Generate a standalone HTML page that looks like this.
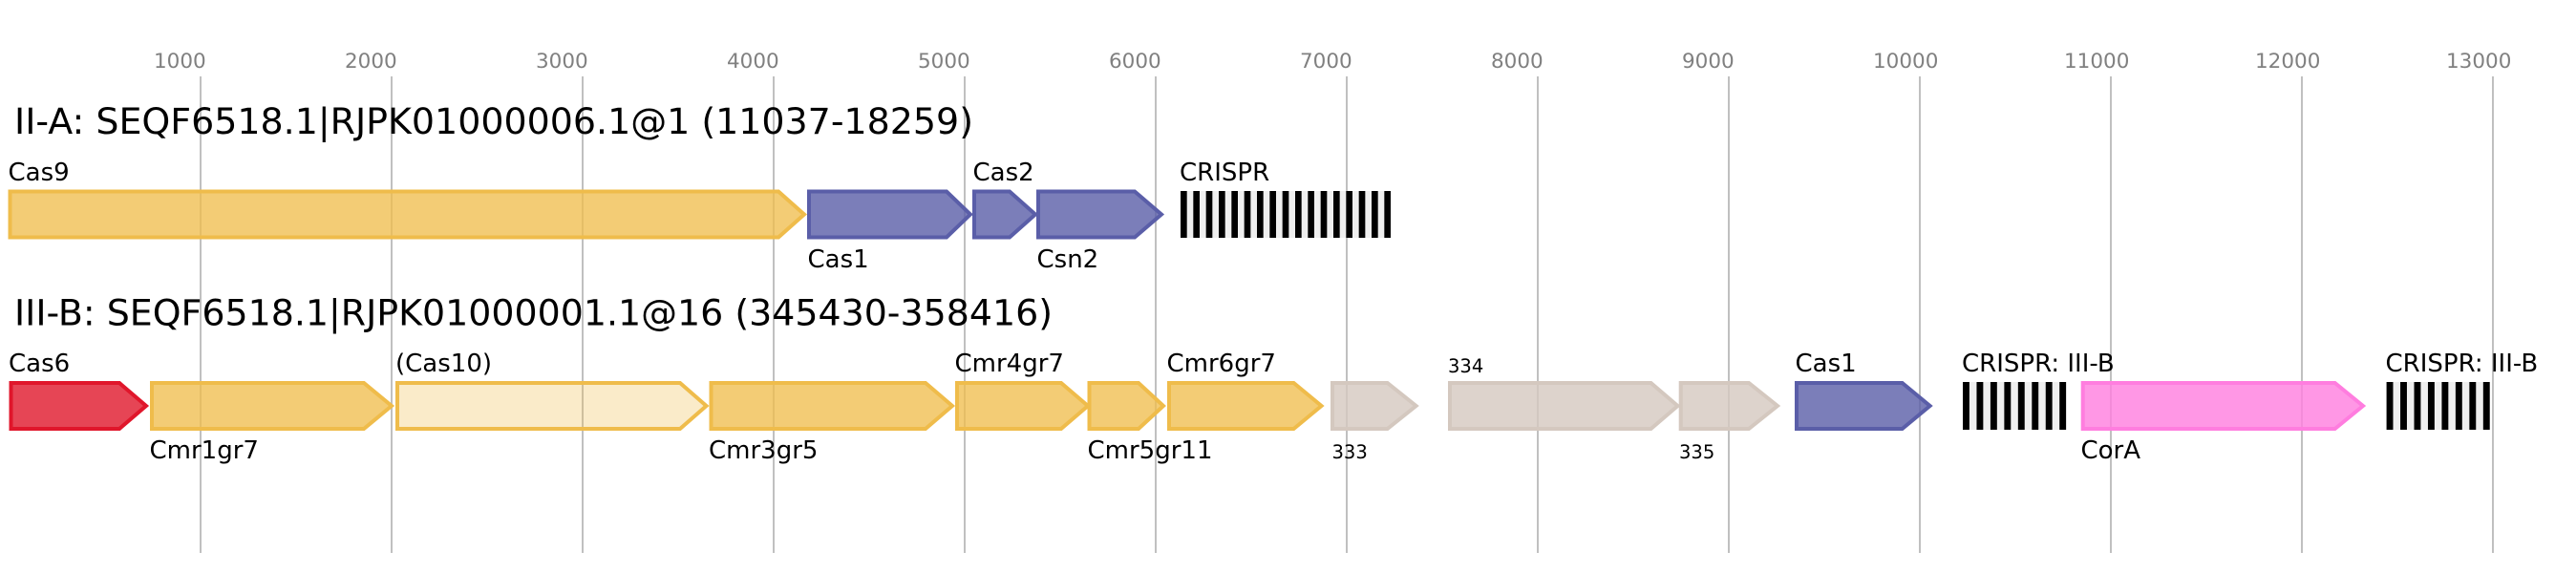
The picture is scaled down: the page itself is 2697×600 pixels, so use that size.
<!DOCTYPE html>
<html><head><meta charset="utf-8"><style>
html,body{margin:0;padding:0;background:#fff;}
svg{display:block;}
text{font-family:"DejaVu Sans","Liberation Sans",sans-serif;}
</style></head><body>
<svg width="2697" height="600" viewBox="0 0 2697 600" xmlns="http://www.w3.org/2000/svg">
<rect width="2697" height="600" fill="#fff"/>
<g stroke="#c0c0c0" stroke-width="2">
<line x1="210" y1="80" x2="210" y2="579"/><line x1="410" y1="80" x2="410" y2="579"/><line x1="610" y1="80" x2="610" y2="579"/><line x1="810" y1="80" x2="810" y2="579"/><line x1="1010" y1="80" x2="1010" y2="579"/><line x1="1210" y1="80" x2="1210" y2="579"/><line x1="1410" y1="80" x2="1410" y2="579"/><line x1="1610" y1="80" x2="1610" y2="579"/><line x1="1810" y1="80" x2="1810" y2="579"/><line x1="2010" y1="80" x2="2010" y2="579"/><line x1="2210" y1="80" x2="2210" y2="579"/><line x1="2410" y1="80" x2="2410" y2="579"/><line x1="2610" y1="80" x2="2610" y2="579"/>
</g>
<g fill="#808080" font-size="21.5">
<text x="161" y="71">1000</text><text x="361" y="71">2000</text><text x="561" y="71">3000</text><text x="761" y="71">4000</text><text x="961" y="71">5000</text><text x="1161" y="71">6000</text><text x="1361" y="71">7000</text><text x="1561" y="71">8000</text><text x="1761" y="71">9000</text><text x="1961" y="71">10000</text><text x="2161" y="71">11000</text><text x="2361" y="71">12000</text><text x="2561" y="71">13000</text>
</g>
<text x="15" y="140" font-size="37.5" fill="#000" textLength="1004" lengthAdjust="spacingAndGlyphs">II-A: SEQF6518.1|RJPK01000006.1@1 (11037-18259)</text>
<text x="15" y="340.5" font-size="37.5" fill="#000" textLength="1087" lengthAdjust="spacingAndGlyphs">III-B: SEQF6518.1|RJPK01000001.1@16 (345430-358416)</text>

<!-- Track 1 -->
<g stroke-width="4" stroke-linejoin="miter">
<path d="M10.5,200.5 L815,200.5 L842,224.5 L815,248.5 L10.5,248.5 Z" fill="#efbc4b" fill-opacity="0.77" stroke="#efbc4b"/>
<path d="M847,200.5 L991,200.5 L1016,224.5 L991,248.5 L847,248.5 Z" fill="#5a5ea8" fill-opacity="0.8" stroke="#5a5ea8"/>
<path d="M1020,200.5 L1057,200.5 L1084,224.5 L1057,248.5 L1020,248.5 Z" fill="#5a5ea8" fill-opacity="0.8" stroke="#5a5ea8"/>
<path d="M1087,200.5 L1188,200.5 L1216,224.5 L1188,248.5 L1087,248.5 Z" fill="#5a5ea8" fill-opacity="0.8" stroke="#5a5ea8"/>
</g>
<rect x="1236" y="200" width="220" height="49" fill="#efefef"/>
<g fill="#000">
<rect x="1236" y="200" width="6.67" height="49"/><rect x="1249.33" y="200" width="6.67" height="49"/><rect x="1262.67" y="200" width="6.67" height="49"/><rect x="1276" y="200" width="6.67" height="49"/><rect x="1289.33" y="200" width="6.67" height="49"/><rect x="1302.67" y="200" width="6.67" height="49"/><rect x="1316" y="200" width="6.67" height="49"/><rect x="1329.33" y="200" width="6.67" height="49"/><rect x="1342.67" y="200" width="6.67" height="49"/><rect x="1356" y="200" width="6.67" height="49"/><rect x="1369.33" y="200" width="6.67" height="49"/><rect x="1382.67" y="200" width="6.67" height="49"/><rect x="1396" y="200" width="6.67" height="49"/><rect x="1409.33" y="200" width="6.67" height="49"/><rect x="1422.67" y="200" width="6.67" height="49"/><rect x="1436" y="200" width="6.67" height="49"/><rect x="1449.33" y="200" width="6.67" height="49"/>
</g>
<g font-size="26" fill="#000">
<text x="8.5" y="189">Cas9</text>
<text x="1018.5" y="189">Cas2</text>
<text x="1235" y="189">CRISPR</text>
<text x="845.5" y="280">Cas1</text>
<text x="1085.5" y="280">Csn2</text>
</g>

<!-- Track 2 -->
<g stroke-width="4" stroke-linejoin="miter">
<path d="M11.5,401 L125,401 L153,425 L125,449 L11.5,449 Z" fill="#e0162b" fill-opacity="0.8" stroke="#e0162b"/>
<path d="M159,401 L381,401 L410,425 L381,449 L159,449 Z" fill="#efbc4b" fill-opacity="0.77" stroke="#efbc4b"/>
<path d="M416,401 L712,401 L739.5,425 L712,449 L416,449 Z" fill="#efbc4b" fill-opacity="0.3" stroke="#efbc4b"/>
<path d="M744.5,401 L969,401 L997,425 L969,449 L744.5,449 Z" fill="#efbc4b" fill-opacity="0.77" stroke="#efbc4b"/>
<path d="M1002,401 L1111,401 L1139,425 L1111,449 L1002,449 Z" fill="#efbc4b" fill-opacity="0.77" stroke="#efbc4b"/>
<path d="M1140.5,401 L1192,401 L1218,425 L1192,449 L1140.5,449 Z" fill="#efbc4b" fill-opacity="0.77" stroke="#efbc4b"/>
<path d="M1224,401 L1354.5,401 L1383.5,425 L1354.5,449 L1224,449 Z" fill="#efbc4b" fill-opacity="0.77" stroke="#efbc4b"/>
<path d="M1395,401 L1452.6,401 L1482.6,425 L1452.6,449 L1395,449 Z" fill="#d4c8bf" fill-opacity="0.8" stroke="#d4c8bf"/>
<path d="M1518,401 L1728.5,401 L1756.5,425 L1728.5,449 L1518,449 Z" fill="#d4c8bf" fill-opacity="0.8" stroke="#d4c8bf"/>
<path d="M1759.7,401 L1831,401 L1861,425 L1831,449 L1759.7,449 Z" fill="#d4c8bf" fill-opacity="0.8" stroke="#d4c8bf"/>
<path d="M1881,401 L1991.6,401 L2020.6,425 L1991.6,449 L1881,449 Z" fill="#5a5ea8" fill-opacity="0.8" stroke="#5a5ea8"/>
<path d="M2180.7,401 L2444.6,401 L2474,425 L2444.6,449 L2180.7,449 Z" fill="#ff7ddf" fill-opacity="0.8" stroke="#ff7ddf"/>
</g>
<rect x="2055" y="400" width="108" height="50" fill="#efefef"/>
<rect x="2498.6" y="400" width="108.2" height="50" fill="#efefef"/>
<g fill="#000">
<rect x="2055" y="400" width="6.9" height="50"/><rect x="2069.46" y="400" width="6.9" height="50"/><rect x="2083.92" y="400" width="6.9" height="50"/><rect x="2098.38" y="400" width="6.9" height="50"/><rect x="2112.84" y="400" width="6.9" height="50"/><rect x="2127.3" y="400" width="6.9" height="50"/><rect x="2141.76" y="400" width="6.9" height="50"/><rect x="2156.22" y="400" width="6.9" height="50"/>
<rect x="2498.6" y="400" width="6.9" height="50"/><rect x="2513.06" y="400" width="6.9" height="50"/><rect x="2527.52" y="400" width="6.9" height="50"/><rect x="2541.98" y="400" width="6.9" height="50"/><rect x="2556.44" y="400" width="6.9" height="50"/><rect x="2570.9" y="400" width="6.9" height="50"/><rect x="2585.36" y="400" width="6.9" height="50"/><rect x="2599.82" y="400" width="6.9" height="50"/>
</g>
<g font-size="26" fill="#000">
<text x="9" y="389">Cas6</text>
<text x="414" y="389">(Cas10)</text>
<text x="999.5" y="389">Cmr4gr7</text>
<text x="1221.5" y="389">Cmr6gr7</text>
<text x="1879.5" y="389">Cas1</text>
<text x="2054" y="389">CRISPR: III-B</text>
<text x="2497.5" y="389">CRISPR: III-B</text>
<text x="156.5" y="480">Cmr1gr7</text>
<text x="742" y="480">Cmr3gr5</text>
<text x="1138.5" y="480">Cmr5gr11</text>
<text x="2178.5" y="480">CorA</text>
</g>
<g font-size="19.5" fill="#000">
<text x="1516" y="390">334</text>
<text x="1394.5" y="480">333</text>
<text x="1758" y="480">335</text>
</g>
</svg>
</body></html>
